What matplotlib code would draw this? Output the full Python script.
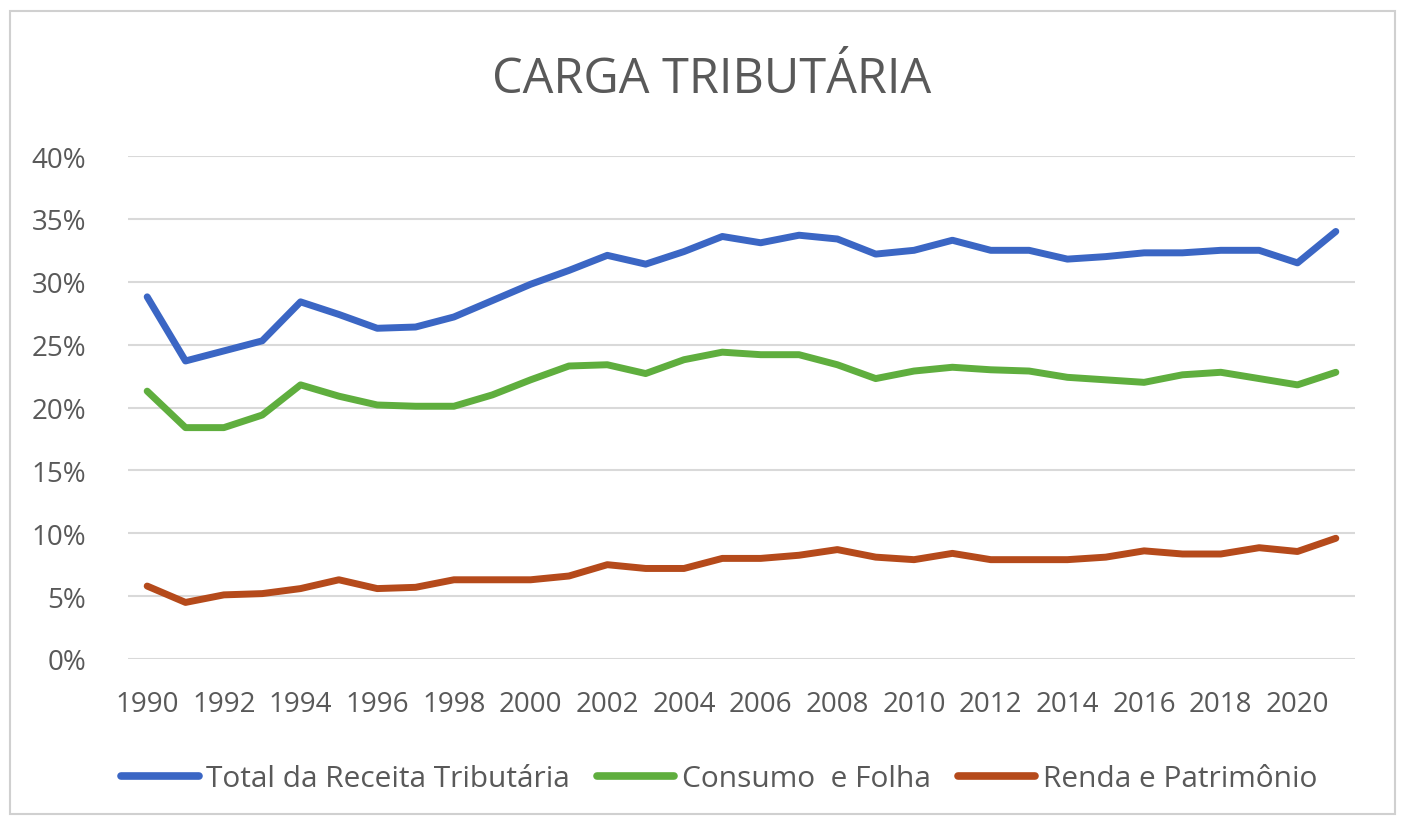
import matplotlib
matplotlib.use("Agg")
import matplotlib.pyplot as plt
from matplotlib.patches import Rectangle
from matplotlib.ticker import FuncFormatter

years = list(range(1990, 2022))
total = [28.8, 23.7, 24.5, 25.3, 28.4, 27.4, 26.3, 26.4, 27.2, 28.5, 29.8, 30.9,
         32.1, 31.4, 32.4, 33.6, 33.1, 33.7, 33.4, 32.2, 32.5, 33.3, 32.5, 32.5,
         31.8, 32.0, 32.3, 32.3, 32.5, 32.5, 31.5, 34.0]
consumo = [21.3, 18.4, 18.4, 19.4, 21.8, 20.9, 20.2, 20.1, 20.1, 21.0, 22.2, 23.3,
           23.4, 22.7, 23.8, 24.4, 24.2, 24.2, 23.4, 22.3, 22.9, 23.2, 23.0, 22.9,
           22.4, 22.2, 22.0, 22.6, 22.8, 22.3, 21.8, 22.8]
renda = [5.8, 4.5, 5.1, 5.2, 5.6, 6.3, 5.6, 5.7, 6.3, 6.3, 6.3, 6.6,
         7.5, 7.2, 7.2, 8.0, 8.0, 8.25, 8.7, 8.1, 7.9, 8.4, 7.9, 7.9,
         7.9, 8.1, 8.6, 8.35, 8.35, 8.85, 8.55, 9.6]
series_names = ["Total da Receita Tributária", "Consumo  e Folha", "Renda e Patrimônio"]
y_ticks = [0, 5, 10, 15, 20, 25, 30, 35, 40]
x_ticks = list(range(1990, 2021, 2))
title = "CARGA TRIBUTÁRIA"

colors = ["#3b66c4", "#5fae3e", "#b54a1b"]
text_color = "#595959"
plt.rcParams['font.family'] = ["Open Sans", "DejaVu Sans"]

W, H = 1403, 829
fig = plt.figure(figsize=(W / 100, H / 100), dpi=100)
fig.patches.append(Rectangle((10 / W, 1 - 815 / H), 1385 / W, 803 / H,
                             transform=fig.transFigure, fill=False,
                             edgecolor="#d0d0d0", linewidth=1.5))

ax = fig.add_axes([128 / W, 1 - 660 / H, 1227 / W, 503 / H])
for vals, c, name in zip([total, consumo, renda], colors, series_names):
    ax.plot(years, vals, color=c, linewidth=5, label=name,
            solid_joinstyle="round", solid_capstyle="round", zorder=3)

ax.set_xlim(1989.5, 2021.5)
ax.set_ylim(0, 40)
ax.set_yticks(y_ticks)
ax.yaxis.set_major_formatter(FuncFormatter(lambda v, p: f"{int(v)}%"))
ax.set_xticks(x_ticks)
ax.grid(axis="y", color="#d9d9d9", linewidth=1.5, zorder=0)
for s in ax.spines.values():
    s.set_visible(False)
ax.tick_params(axis="both", length=0, labelsize=20, colors=text_color)
ax.tick_params(axis="y", pad=30)
ax.tick_params(axis="x", pad=22)

fig.text(712 / W, 1 - 80 / H, title, ha="center", va="center",
         fontsize=35, color=text_color)

leg = fig.legend(loc="center", bbox_to_anchor=(719 / W, 1 - 780 / H), ncol=3,
                 frameon=False, fontsize=21.5, handlelength=2.6,
                 handletextpad=0.25, columnspacing=0.9, labelcolor=text_color)
for h in leg.get_lines():
    h.set_linewidth(5.5)

fig.savefig("out.png", dpi=100, facecolor="white")
